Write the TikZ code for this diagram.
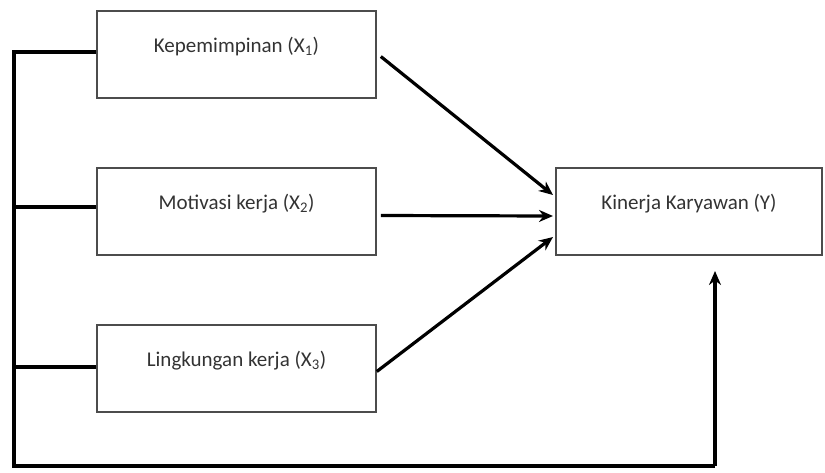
\documentclass[tikz,border=0pt]{standalone}
\usepackage{fontspec}
\setmainfont{Carlito}
\usetikzlibrary{arrows.meta,calc}
\begin{document}
\begin{tikzpicture}[x=1pt,y=-1pt,
  box/.style={draw=black!70,line width=1.6pt,minimum width=279pt,minimum height=87pt,
    inner sep=0pt,text height=13pt,text depth=18pt,font=\fontsize{21}{24}\selectfont,text=black!80},
  conn/.style={line width=3.2pt,black},
  arr/.style={conn,-{Stealth[length=14pt,width=12pt]}}]
\useasboundingbox (0,0) rectangle (825,472);
\node[box] (b1) at (236.5,54.5) {Kepemimpinan (X\textsubscript{1})};
\node[box] (b2) at (236.5,211.5) {Motivasi kerja (X\textsubscript{2})};
\node[box] (b3) at (236.5,368.5) {Lingkungan kerja (X\textsubscript{3})};
\node[box,minimum width=266pt] (b4) at (689,211.5) {Kinerja Karyawan (Y)};
\coordinate (top) at (14,52);
\coordinate (bot) at (14,466);
\coordinate (corner) at (715,466);
\coordinate (tip) at (715,271);
\coordinate (t1) at (553,195);
\coordinate (t2) at (553,216);
\coordinate (t3) at (553,237);
\draw[conn] (b1.west |- top) -- (top) -- (bot) -- (corner);
\draw[conn] (b2.west |- 0,207) -- (14,207);
\draw[conn] (b3.west |- 0,367) -- (14,367);
\draw[arr] (corner) -- (tip);
\draw[arr] ($(b1.east)+(4,2)$) -- (t1);
\draw[arr] ($(b2.east)+(4,4)$) -- (t2);
\draw[arr] ($(b3.east)+(0,3)$) -- (t3);
\end{tikzpicture}
\end{document}
